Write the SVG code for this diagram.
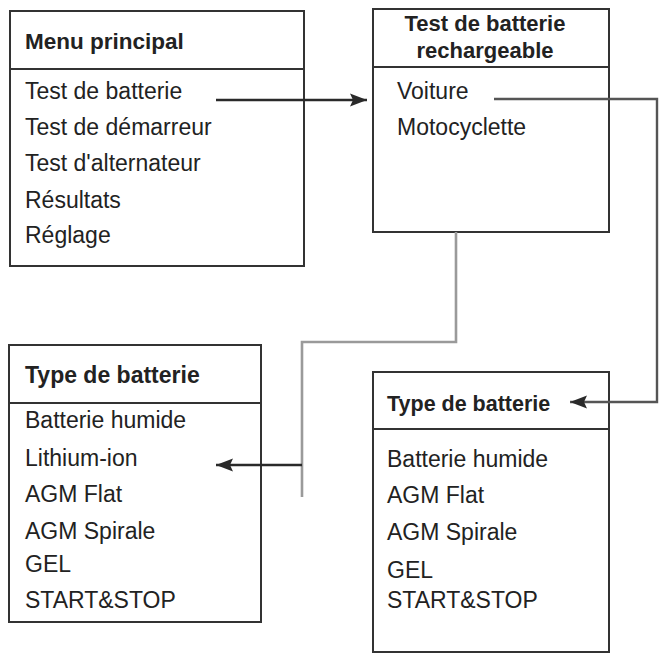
<svg xmlns="http://www.w3.org/2000/svg" width="662" height="656" viewBox="0 0 662 656">
<defs>
<style>
.box{fill:#fff;stroke:#333;stroke-width:2}
.div{stroke:#333;stroke-width:2}
.t{font-family:"Liberation Sans",Arial,sans-serif;font-size:23px;fill:#222}
.h{font-family:"Liberation Sans",Arial,sans-serif;font-size:22.5px;font-weight:bold;fill:#222}
.c{fill:none;stroke-width:2.4}
.dark{stroke:#2a2a2a}
.mid{stroke:#555}
.light{stroke:#9a9a9a;stroke-width:2.6}
</style>
<marker id="ah" markerWidth="18" markerHeight="14" refX="17" refY="7" orient="auto" markerUnits="userSpaceOnUse">
<path d="M0,0.5 L17,7 L0,13.5 L3,7 Z" fill="#2a2a2a"/>
</marker>
</defs>
<rect width="662" height="656" fill="#fff"/>

<g id="menu-principal">
<rect class="box" x="10" y="11" width="294" height="255"/>
<line class="div" x1="10" y1="69" x2="304" y2="69"/>
<text class="h" x="25" y="49">Menu principal</text>
<text class="t" x="25" y="99">Test de batterie</text>
<text class="t" x="25" y="135">Test de démarreur</text>
<text class="t" x="25" y="171">Test d'alternateur</text>
<text class="t" x="25" y="208">Résultats</text>
<text class="t" x="25" y="243">Réglage</text>
</g>

<g id="test-batterie-rechargeable">
<rect class="box" x="373" y="9" width="236" height="223"/>
<line class="div" x1="373" y1="67" x2="609" y2="67"/>
<text class="h" x="485" y="31" text-anchor="middle" style="font-size:22px">Test de batterie</text>
<text class="h" x="485" y="58" text-anchor="middle" style="font-size:22px">rechargeable</text>
<text class="t" x="397" y="99">Voiture</text>
<text class="t" x="397" y="135">Motocyclette</text>
</g>

<g id="type-batterie-gauche">
<rect class="box" x="9" y="345" width="252" height="277"/>
<line class="div" x1="9" y1="403" x2="261" y2="403"/>
<text class="h" x="25" y="383" style="font-size:23px">Type de batterie</text>
<text class="t" x="25" y="428">Batterie humide</text>
<text class="t" x="25" y="466">Lithium-ion</text>
<text class="t" x="25" y="502">AGM Flat</text>
<text class="t" x="25" y="539">AGM Spirale</text>
<text class="t" x="25" y="572">GEL</text>
<text class="t" x="25" y="608">START&amp;STOP</text>
</g>

<g id="type-batterie-droite">
<rect class="box" x="373" y="372" width="236" height="280"/>
<line class="div" x1="373" y1="429" x2="609" y2="429"/>
<text class="h" x="387" y="411" style="font-size:21.5px">Type de batterie</text>
<text class="t" x="387" y="467">Batterie humide</text>
<text class="t" x="387" y="503">AGM Flat</text>
<text class="t" x="387" y="540">AGM Spirale</text>
<text class="t" x="387" y="578">GEL</text>
<text class="t" x="387" y="608">START&amp;STOP</text>
</g>

<g id="connectors">
<path class="c light" d="M456,232 V342 H302 V497"/>
<path class="c dark" d="M216,100 H367" marker-end="url(#ah)"/>
<path class="c mid" d="M494,99 H657 V402 H570" marker-end="url(#ah)"/>
<path class="c dark" d="M302,465 H216" marker-end="url(#ah)"/>
</g>
</svg>
